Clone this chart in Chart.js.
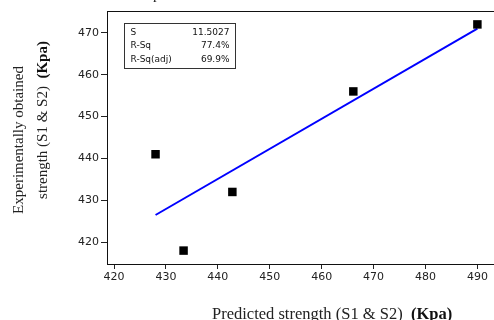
<!DOCTYPE html>
<html>
<head>
<meta charset="utf-8">
<script src="https://cdn.jsdelivr.net/npm/chart.js@4/dist/chart.umd.min.js"></script>
<style>
    html, body { margin: 0; padding: 0; background: #fff; overflow: hidden; }
    #wrap { position: relative; width: 494px; height: 320px; }
</style>
</head>
<body>
<div id="wrap"><canvas id="fitChart" width="494" height="320"></canvas></div>
<script>
// data
const predicted = [428, 433.4, 442.8, 466.1, 490];
const experimental = [441, 418, 432, 456, 472];
const fitX = [428, 490];
const fitY = [426.5, 471.0];
const xTicks = [420, 430, 440, 450, 460, 470, 480, 490];
const yTicks = [420, 430, 440, 450, 460, 470];
const statLabels = ['S', 'R-Sq', 'R-Sq(adj)'];
const statValues = ['11.5027', '77.4%', '69.9%'];

const serif = '"Liberation Serif", "Times New Roman", serif';
const sans = '"DejaVu Sans", Verdana, sans-serif';

// draws text made of [text, font] pieces, left to right
function drawRuns(ctx, runs, x, y) {
    let cx = x;
    runs.forEach(([txt, font, color]) => {
        ctx.font = font;
        ctx.fillStyle = color || '#222';
        ctx.fillText(txt, cx, y);
        cx += ctx.measureText(txt).width;
    });
}
function runsWidth(ctx, runs) {
    let w = 0;
    runs.forEach(([txt, font]) => { ctx.font = font; w += ctx.measureText(txt).width; });
    return w;
}

const decor = {
    id: 'decor',
    afterDraw(chart) {
        const ctx = chart.ctx;
        const a = chart.chartArea;
        ctx.save();

        // top frame line
        ctx.strokeStyle = '#111';
        ctx.lineWidth = 1;
        ctx.beginPath();
        ctx.moveTo(a.left, a.top + 0.5);
        ctx.lineTo(a.right, a.top + 0.5);
        ctx.stroke();

        // stats box
        const bx = 124.5, by = 23.5, bw = 111, bh = 45;
        ctx.strokeStyle = '#333';
        ctx.strokeRect(bx, by, bw, bh);
        ctx.font = '9px ' + sans;
        ctx.fillStyle = '#111';
        ctx.textBaseline = 'middle';
        statLabels.forEach((lab, i) => {
            const yy = by + 9 + i * 13.5;
            ctx.textAlign = 'left';
            ctx.fillText(lab, bx + 6, yy);
            ctx.textAlign = 'right';
            ctx.fillText(statValues[i], bx + bw - 6, yy);
        });

        // cropped title fragment at the very top
        ctx.textAlign = 'left';
        ctx.textBaseline = 'alphabetic';
        ctx.font = '15px ' + serif;
        ctx.fillStyle = '#222';
        ctx.fillText('p', 153, -1);

        // x axis title
        const xRuns = [
            ['Predicted strength (S1 & S2)  ', '16.5px ' + serif, '#222'],
            ['(Kpa)', 'bold 16.5px ' + serif, '#111']
        ];
        drawRuns(ctx, xRuns, 212, 319);

        // y axis title, two lines rotated
        const y1 = [['Experimentally obtained', '15px ' + serif, '#222']];
        const y2 = [
            ['strength (S1 & S2)  ', '15px ' + serif, '#222'],
            ['(Kpa)', 'bold 15px ' + serif, '#111']
        ];
        ctx.textBaseline = 'middle';
        [[y1, 19, 140], [y2, 43, 120]].forEach(([runs, cx, cy]) => {
            ctx.save();
            ctx.translate(cx, cy);
            ctx.rotate(-Math.PI / 2);
            drawRuns(ctx, runs, -runsWidth(ctx, runs) / 2, 0);
            ctx.restore();
        });

        ctx.restore();
    }
};

const ctx = document.getElementById('fitChart').getContext('2d');
const chart = new Chart(ctx, {
    type: 'scatter',
    data: {
        datasets: [
            {
                label: 'Observed',
                data: predicted.map((x, i) => ({ x: x, y: experimental[i] })),
                pointStyle: 'rect',
                pointRadius: 6,
                pointHoverRadius: 6,
                backgroundColor: '#000',
                borderColor: '#000',
                borderWidth: 0,
                order: 1
            },
            {
                label: 'Fit',
                type: 'line',
                data: fitX.map((x, i) => ({ x: x, y: fitY[i] })),
                borderColor: '#0000ff',
                borderWidth: 2,
                pointRadius: 0,
                fill: false,
                order: 2
            }
        ]
    },
    options: {
        responsive: false,
        animation: false,
        events: [],
        layout: { autoPadding: false, padding: { left: 0, right: 0, top: 11, bottom: 0 } },
        plugins: {
            legend: { display: false },
            tooltip: { enabled: false }
        },
        scales: {
            x: {
                type: 'linear',
                min: 418.65,
                max: 493.2,
                afterFit: (s) => { s.height = 56; s.paddingLeft = 0; s.paddingRight = 0; },
                afterBuildTicks: (s) => { s.ticks = xTicks.map(v => ({ value: v })); },
                grid: { drawOnChartArea: false, drawTicks: true, tickLength: 5, color: '#222' },
                border: { display: true, color: '#111', width: 1 },
                ticks: {
                    color: '#222',
                    padding: 2,
                    font: { family: sans, size: 11 },
                    maxRotation: 0
                }
            },
            y: {
                type: 'linear',
                min: 414.8,
                max: 475.2,
                afterFit: (s) => { s.width = 107; s.paddingTop = 0; s.paddingBottom = 0; },
                afterBuildTicks: (s) => { s.ticks = yTicks.map(v => ({ value: v })); },
                grid: { drawOnChartArea: false, drawTicks: true, tickLength: 6, color: '#222' },
                border: { display: true, color: '#111', width: 1 },
                ticks: {
                    color: '#222',
                    padding: 2,
                    font: { family: sans, size: 11 }
                }
            }
        }
    },
    plugins: [decor]
});
</script>
</body>
</html>
